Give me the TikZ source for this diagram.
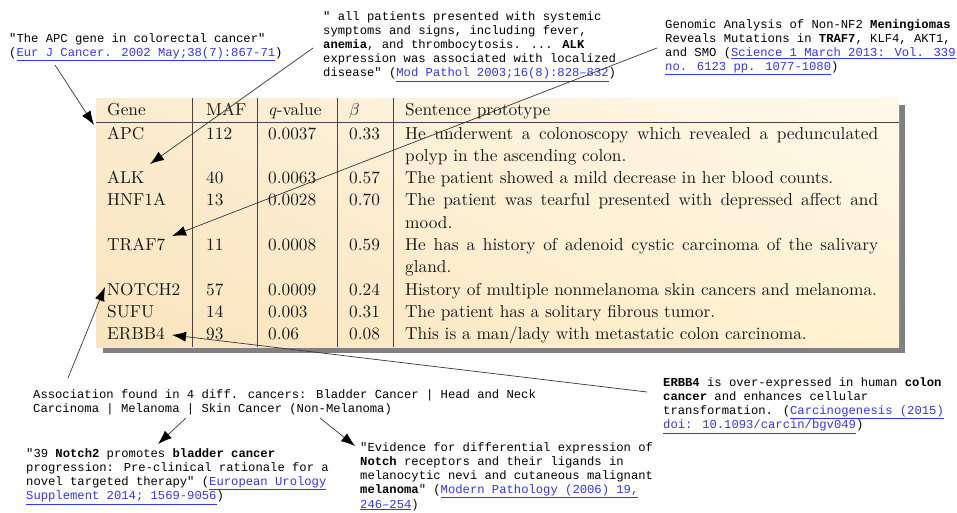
\documentclass[tikz,border=0pt]{standalone}
\usepackage{fontspec}
\newfontfamily\monof{Liberation Mono}
\newfontfamily\tabfont{lmroman10-regular}[Extension=.otf, ItalicFont=lmroman10-italic]
\usetikzlibrary{arrows.meta,shadings}
\definecolor{linkblue}{RGB}{51,51,255}
\definecolor{tabtext}{RGB}{25,25,25}
\definecolor{shadowgray}{RGB}{128,128,128}
\definecolor{linegray}{RGB}{55,55,55}
\definecolor{rulegray}{RGB}{70,70,70}
\definecolor{bgul}{RGB}{251,236,207}
\definecolor{bgur}{RGB}{255,249,235}
\definecolor{bgll}{RGB}{249,228,190}
\definecolor{bglr}{RGB}{255,242,208}
\newcommand\lnk[1]{\textcolor{linkblue}{\underline{#1}}}
\newcommand\notelines[1]{\begin{tabular}[t]{@{}l@{}}#1\end{tabular}}
\newcommand\jline[1]{\makebox[473pt][s]{#1}}
\begin{document}
\begin{tikzpicture}[x=1pt,y=-1pt,
  tabcell/.style={anchor=base west, inner sep=0pt, text=tabtext, font=\tabfont\fontsize{17.3}{22}\selectfont},
  note/.style={anchor=base west, inner sep=0pt, text=black, font=\monof\fontsize{12.2}{14.2}\selectfont},
  conn/.style={draw=linegray, line width=0.7pt, -{Latex[length=14pt,width=10pt,color=black]}},
  tabrule/.style={draw=rulegray, line width=0.8pt}]
\useasboundingbox (0,0) rectangle (957,512);
\fill[white] (0,0) rectangle (957,512);

% table background
\fill[shadowgray] (103,105) rectangle (905,353);
\shade[upper left=bgul, upper right=bgur, lower left=bgll, lower right=bglr] (96,98) rectangle (899,347);
\draw[tabrule] (96,122) -- (899,122);
\foreach \xx in {192,257,337,393} \draw[tabrule] (\xx,98) -- (\xx,347);

% header
\node[tabcell] (hgene) at (107,115) {Gene};
\node[tabcell] (hmaf) at (206,115) {MAF};
\node[tabcell] (hq) at (268,115) {\textit{q}-value};
\node[tabcell] (hb) at (349,115) {$\beta$};
\node[tabcell] (hs) at (405,115) {Sentence prototype};

% rows
\node[tabcell] (g1) at (107,139) {APC};
\node[tabcell] (m1) at (206,139) {112};
\node[tabcell] (q1) at (268,139) {0.0037};
\node[tabcell] (b1) at (349,139) {0.33};
\node[tabcell] (s1a) at (405,139) {\jline{He underwent a colonoscopy which revealed a pedunculated}};
\node[tabcell] (s1b) at (405,161.3) {polyp in the ascending colon.};

\node[tabcell] (g2) at (107,183.6) {ALK};
\node[tabcell] (m2) at (206,183.6) {40};
\node[tabcell] (q2) at (268,183.6) {0.0063};
\node[tabcell] (b2) at (349,183.6) {0.57};
\node[tabcell] (s2) at (405,183.6) {The patient showed a mild decrease in her blood counts.};

\node[tabcell] (g3) at (107,205.9) {HNF1A};
\node[tabcell] (m3) at (206,205.9) {13};
\node[tabcell] (q3) at (268,205.9) {0.0028};
\node[tabcell] (b3) at (349,205.9) {0.70};
\node[tabcell] (s3a) at (405,205.9) {\jline{The patient was tearful presented with depressed affect and}};
\node[tabcell] (s3b) at (405,228.2) {mood.};

\node[tabcell] (g4) at (107,250.5) {TRAF7};
\node[tabcell] (m4) at (206,250.5) {11};
\node[tabcell] (q4) at (268,250.5) {0.0008};
\node[tabcell] (b4) at (349,250.5) {0.59};
\node[tabcell] (s4a) at (405,250.5) {\jline{He has a history of adenoid cystic carcinoma of the salivary}};
\node[tabcell] (s4b) at (405,272.8) {gland.};

\node[tabcell] (g5) at (107,295.1) {NOTCH2};
\node[tabcell] (m5) at (206,295.1) {57};
\node[tabcell] (q5) at (268,295.1) {0.0009};
\node[tabcell] (b5) at (349,295.1) {0.24};
\node[tabcell] (s5) at (405,295.1) {History of multiple nonmelanoma skin cancers and melanoma.};

\node[tabcell] (g6) at (107,317.4) {SUFU};
\node[tabcell] (m6) at (206,317.4) {14};
\node[tabcell] (q6) at (268,317.4) {0.003};
\node[tabcell] (b6) at (349,317.4) {0.31};
\node[tabcell] (s6) at (405,317.4) {The patient has a solitary fibrous tumor.};

\node[tabcell] (g7) at (107,339.7) {ERBB4};
\node[tabcell] (m7) at (206,339.7) {93};
\node[tabcell] (q7) at (268,339.7) {0.06};
\node[tabcell] (b7) at (349,339.7) {0.08};
\node[tabcell] (s7) at (405,339.7) {This is a man/lady with metastatic colon carcinoma.};

% annotations
\node[note] (napc) at (9,42) {\notelines{"The APC gene in colorectal cancer"\\
(\lnk{Eur J Cancer. 2002 May;38(7):867-71})}};

\node[note] (nalk) at (323,20) {\notelines{" all patients presented with systemic\\
symptoms and signs, including fever,\\
\textbf{anemia}, and thrombocytosis. ... \textbf{ALK}\\
expression was associated with localized\\
disease" (\lnk{Mod Pathol 2003;16(8):828–832})}};

\node[note] (ntraf) at (665,28) {\notelines{Genomic Analysis of Non-NF2 \textbf{Meningiomas}\\
Reveals Mutations in \textbf{TRAF7}, KLF4, AKT1,\\
and SMO (\lnk{Science 1 March 2013: Vol. 339}\\
\lnk{no. 6123 pp. 1077-1080})}};

\node[note] (nassoc) at (33,398) {\notelines{Association found in 4 diff. cancers: Bladder Cancer | Head and Neck\\
Carcinoma | Melanoma | Skin Cancer (Non-Melanoma)}};

\node[note] (nblad) at (26,457) {\notelines{"39 \textbf{Notch2} promotes \textbf{bladder cancer}\\
progression: Pre-clinical rationale for a\\
novel targeted therapy" (\lnk{European Urology}\\
\lnk{Supplement 2014; 1569-9056})}};

\node[note] (nevid) at (360,451) {\notelines{"Evidence for differential expression of\\
\textbf{Notch} receptors and their ligands in\\
melanocytic nevi and cutaneous malignant\\
\textbf{melanoma}" (\lnk{Modern Pathology (2006) 19,}\\
\lnk{246–254})}};

\node[note] (nerbb) at (663,386) {\notelines{\textbf{ERBB4} is over-expressed in human \textbf{colon}\\
\textbf{cancer} and enhances cellular\\
transformation. (\lnk{Carcinogenesis (2015)}\\
\lnk{doi: 10.1093/carcin/bgv049})}};

% connector end points
\coordinate (apcS) at (55,65);   \coordinate (apcT) at (94,125);
\coordinate (alkS) at (313,48);  \coordinate (alkT) at (150,164);
\coordinate (trafS) at (657,48); \coordinate (trafT) at (172,236);
\coordinate (notchS) at (68,378); \coordinate (notchT) at (105,287);
\coordinate (erbbS) at (647,392); \coordinate (erbbT) at (172,335);
\coordinate (bladS) at (186,418); \coordinate (bladT) at (158,444);
\coordinate (evidS) at (320,418); \coordinate (evidT) at (355,446);

\draw[conn] (apcS) -- (apcT);
\draw[conn] (alkS) -- (alkT);
\draw[conn] (trafS) -- (trafT);
\draw[conn] (notchS) -- (notchT);
\draw[conn] (erbbS) -- (erbbT);
\draw[conn] (bladS) -- (bladT);
\draw[conn] (evidS) -- (evidT);
\end{tikzpicture}
\end{document}
